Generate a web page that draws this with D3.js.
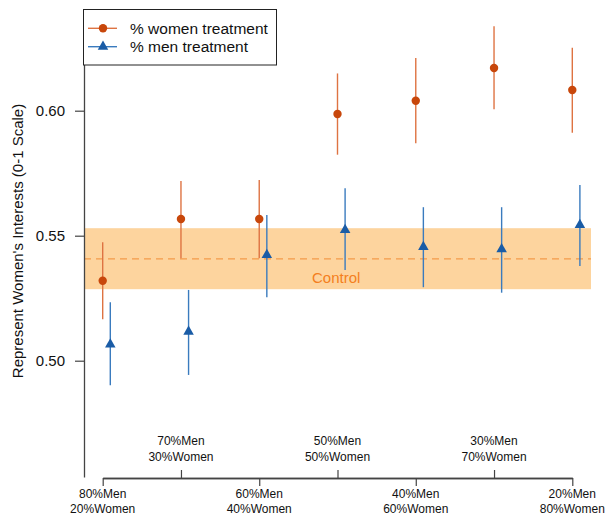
<!DOCTYPE html>
<html>
<head>
<meta charset="utf-8">
<script src="https://cdn.jsdelivr.net/npm/d3@7"></script>
<style>
  html, body { margin: 0; padding: 0; background: #fff; }
  svg { display: block; font-family: "Liberation Sans", Arial, Helvetica, sans-serif; }
</style>
</head>
<body>
<svg id="chart" width="606" height="518"></svg>
<script>
// ---- Data ----
const categoriesMen = ["80%Men", "70%Men", "60%Men", "50%Men", "40%Men", "30%Men", "20%Men"];
const categoriesWomen = ["20%Women", "30%Women", "40%Women", "50%Women", "60%Women", "70%Women", "80%Women"];
const womenEst = [0.532, 0.5567, 0.5567, 0.5987, 0.604, 0.6171, 0.6083];
const womenLo  = [0.5166, 0.541, 0.541, 0.5824, 0.587, 0.6006, 0.5912];
const womenHi  = [0.5474, 0.5719, 0.5723, 0.6149, 0.6211, 0.6338, 0.6252];
const menEst = [0.5065, 0.5116, 0.5423, 0.5523, 0.5455, 0.5446, 0.5543];
const menLo  = [0.4902, 0.4943, 0.5254, 0.5363, 0.5294, 0.5272, 0.5379];
const menHi  = [0.5234, 0.5283, 0.5583, 0.569, 0.5614, 0.5614, 0.5703];
const controlEst = 0.5407;
const controlLo = 0.5286;
const controlHi = 0.553;
const yTicks = [0.50, 0.55, 0.60];
const legendLabels = ["% women treatment", "% men treatment"];
const yTitle = "Represent Women's Interests (0-1 Scale)";

// ---- Styles ----
const womenColor = "#C8470B", womenBar = "#DE7342";
const menColor = "#1A5CA6", menBar = "#3A7BBE";
const bandColor = "#FDD49E", dashColor = "#F39A4A", controlText = "#F47F20";
const axisColor = "#444";

const svg = d3.select("#chart");
const idx = d3.range(categoriesMen.length);
const x = d3.scaleLinear().domain([0, 6]).range([102.7, 572.3]);
const y = d3.scaleLinear().domain([0.45348, 0.64028]).range([477, 10]);
const menOffset = 7.6;
const axisX = 84;
const axisY = 478;

// Control band
svg.append("rect")
  .attr("x", axisX).attr("y", y(controlHi))
  .attr("width", 591 - axisX).attr("height", y(controlLo) - y(controlHi))
  .attr("fill", bandColor);
svg.append("line")
  .attr("x1", axisX).attr("x2", 591)
  .attr("y1", y(controlEst)).attr("y2", y(controlEst))
  .attr("stroke", dashColor).attr("stroke-width", 1.3)
  .attr("stroke-dasharray", "7,5");
svg.append("text")
  .attr("x", 312).attr("y", y(controlEst) + 24)
  .attr("font-size", "15px").attr("fill", controlText)
  .text("Control");

// Error bars
svg.append("g").selectAll("line").data(idx).join("line")
  .attr("x1", i => x(i)).attr("x2", i => x(i))
  .attr("y1", i => y(womenLo[i])).attr("y2", i => y(womenHi[i]))
  .attr("stroke", womenBar).attr("stroke-width", 1.4);
svg.append("g").selectAll("line").data(idx).join("line")
  .attr("x1", i => x(i) + menOffset).attr("x2", i => x(i) + menOffset)
  .attr("y1", i => y(menLo[i])).attr("y2", i => y(menHi[i]))
  .attr("stroke", menBar).attr("stroke-width", 1.4);

// Markers
svg.append("g").selectAll("circle").data(idx).join("circle")
  .attr("cx", i => x(i)).attr("cy", i => y(womenEst[i]))
  .attr("r", 4.2).attr("fill", womenColor);
const tri = d3.symbol().type(d3.symbolTriangle).size(48);
svg.append("g").selectAll("path").data(idx).join("path")
  .attr("d", tri)
  .attr("transform", i => `translate(${x(i) + menOffset},${y(menEst[i])})`)
  .attr("fill", menColor);

// Y axis
const yAxis = svg.append("g")
  .attr("transform", `translate(${axisX},0)`)
  .call(d3.axisLeft(y).tickValues(yTicks).tickFormat(d3.format(".2f")).tickSize(9).tickSizeOuter(0).tickPadding(10));
yAxis.select(".domain").attr("stroke", axisColor).attr("stroke-width", 1.3);
yAxis.selectAll(".tick line").attr("stroke", axisColor).attr("stroke-width", 1.2);
yAxis.selectAll(".tick text").attr("font-size", "15px").attr("fill", "#111")
  .attr("font-family", "Liberation Sans, Arial, sans-serif");

svg.append("text")
  .attr("transform", "translate(23,241) rotate(-90)")
  .attr("text-anchor", "middle")
  .attr("font-size", "15px").attr("fill", "#111")
  .text(yTitle);

// X axis (bracket with alternating ticks)
const evenIdx = idx.filter(i => i % 2 === 0);
const oddIdx = idx.filter(i => i % 2 === 1);
const xDown = svg.append("g")
  .attr("transform", `translate(0,${axisY})`)
  .call(d3.axisBottom(x).tickValues(evenIdx).tickFormat("").tickSize(8).tickSizeOuter(0));
const xUp = svg.append("g")
  .attr("transform", `translate(0,${axisY})`)
  .call(d3.axisTop(x).tickValues(oddIdx).tickFormat("").tickSize(8).tickSizeOuter(0));
[xDown, xUp].forEach(g => {
  g.select(".domain").attr("stroke", axisColor).attr("stroke-width", 1.3);
  g.selectAll(".tick line").attr("stroke", axisColor).attr("stroke-width", 1.2);
});

const lbl = svg.append("g").attr("font-size", "12px").attr("fill", "#111").attr("text-anchor", "middle");
idx.forEach(i => {
  const base = i % 2 === 0 ? 497.5 : 445;
  const t = lbl.append("text").attr("x", x(i)).attr("y", base);
  t.append("tspan").attr("x", x(i)).attr("y", base).text(categoriesMen[i]);
  t.append("tspan").attr("x", x(i)).attr("y", base + 15.5).text(categoriesWomen[i]);
});

// Legend
const lg = svg.append("g");
lg.append("rect")
  .attr("x", 83.5).attr("y", 9.5).attr("width", 193).attr("height", 55.5)
  .attr("fill", "#fff").attr("stroke", "#222").attr("stroke-width", 1);
const legY = [28.3, 46.7];
lg.append("line").attr("x1", 88).attr("x2", 117).attr("y1", legY[0]).attr("y2", legY[0])
  .attr("stroke", womenBar).attr("stroke-width", 1.4);
lg.append("circle").attr("cx", 103).attr("cy", legY[0]).attr("r", 4.2).attr("fill", womenColor);
lg.append("line").attr("x1", 88).attr("x2", 117).attr("y1", legY[1]).attr("y2", legY[1])
  .attr("stroke", menBar).attr("stroke-width", 1.4);
lg.append("path").attr("d", tri).attr("transform", `translate(103,${legY[1]})`).attr("fill", menColor);
legendLabels.forEach((s, k) => {
  lg.append("text").attr("x", 130).attr("y", legY[k] + 5.3)
    .attr("font-size", "15.5px").attr("fill", "#111").text(s);
});
</script>
</body>
</html>
